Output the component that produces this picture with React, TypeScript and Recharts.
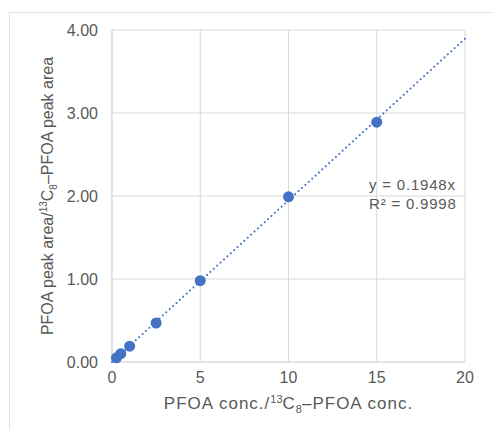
import React from 'react';
import { ScatterChart, Scatter, XAxis, YAxis, CartesianGrid } from 'recharts';

// measured standards
const concRatio = [0.25, 0.5, 1, 2.5, 5, 10, 15];
const areaRatio = [0.05, 0.1, 0.19, 0.47, 0.98, 1.99, 2.89];

// linear fit through origin
const slope = 0.1948;
const fitX = [0, 20];

const xTicks = [0, 5, 10, 15, 20];
const yTicks = [0, 1, 2, 3, 4];

const points = concRatio.map((x, i) => ({ x, y: areaRatio[i] }));
const trend = fitX.map((x) => ({ x, y: slope * x }));

const FONT = '"Liberation Sans", Arial, sans-serif';
const TEXT = '#595959';
const BLUE = '#4472C4';

const XTitle = ({ viewBox }: any) => {
  const cx = viewBox.x + viewBox.width / 2;
  return (
    <text x={cx} y={409} textAnchor="middle" fill={TEXT} fontSize={17} letterSpacing={1} fontFamily={FONT}>
      <tspan>PFOA conc./</tspan>
      <tspan dy={-6} fontSize={11} letterSpacing={0}>13</tspan>
      <tspan dy={6}>C</tspan>
      <tspan dy={4} fontSize={11} letterSpacing={0}>8</tspan>
      <tspan dy={-4}>–PFOA conc.</tspan>
    </text>
  );
};

const YTitle = () => {
  const cx = 53;
  const cy = 196;
  return (
    <text
      x={cx}
      y={cy}
      textAnchor="middle"
      transform={`rotate(-90, ${cx}, ${cy})`}
      fill={TEXT}
      fontSize={16}
      fontFamily={FONT}
    >
      <tspan>PFOA peak area/</tspan>
      <tspan dy={-6} fontSize={10}>13</tspan>
      <tspan dy={6}>C</tspan>
      <tspan dy={4} fontSize={10}>8</tspan>
      <tspan dy={-4}>–PFOA peak area</tspan>
    </text>
  );
};

const App: React.FC = () => {
  return (
    <div style={{ position: 'absolute', left: 0, top: 0, width: 493, height: 430, background: '#fff' }}>
      <div
        style={{
          position: 'absolute',
          left: 9,
          top: 12,
          width: 484,
          height: 418,
          borderTop: '1px solid #e2e2e2',
          borderLeft: '1px solid #e2e2e2',
        }}
      />
      <ScatterChart width={493} height={430} margin={{ top: 30, right: 28, bottom: 0, left: 0 }}>
        <CartesianGrid stroke="#d9d9d9" strokeWidth={1} />
        <XAxis
          type="number"
          dataKey="x"
          domain={[0, 20]}
          ticks={xTicks}
          height={68}
          tickSize={0}
          tickMargin={10}
          axisLine={{ stroke: '#d9d9d9' }}
          tick={{ fill: TEXT, fontSize: 16, fontFamily: FONT }}
          label={{ content: XTitle }}
        />
        <YAxis
          type="number"
          dataKey="y"
          domain={[0, 4]}
          ticks={yTicks}
          width={112}
          tickSize={0}
          tickMargin={14}
          axisLine={{ stroke: '#d9d9d9' }}
          tickFormatter={(v: number) => v.toFixed(2)}
          tick={{ fill: TEXT, fontSize: 16, fontFamily: FONT }}
          label={{ content: YTitle }}
        />
        <Scatter
          data={trend}
          isAnimationActive={false}
          line={{ stroke: BLUE, strokeWidth: 2, strokeDasharray: '0.1 4.5', strokeLinecap: 'round' }}
          shape={() => null}
        />
        <Scatter
          data={points}
          isAnimationActive={false}
          fill={BLUE}
          shape={(p: any) => <circle cx={p.cx} cy={p.cy} r={5.5} fill={BLUE} />}
        />
      </ScatterChart>
      <div
        style={{
          position: 'absolute',
          left: 369,
          top: 175,
          fontFamily: FONT,
          fontSize: 15,
          letterSpacing: 0.8,
          color: TEXT,
          lineHeight: '19px',
        }}
      >
        <div>y = 0.1948x</div>
        <div>R² = 0.9998</div>
      </div>
    </div>
  );
};

export default App;
